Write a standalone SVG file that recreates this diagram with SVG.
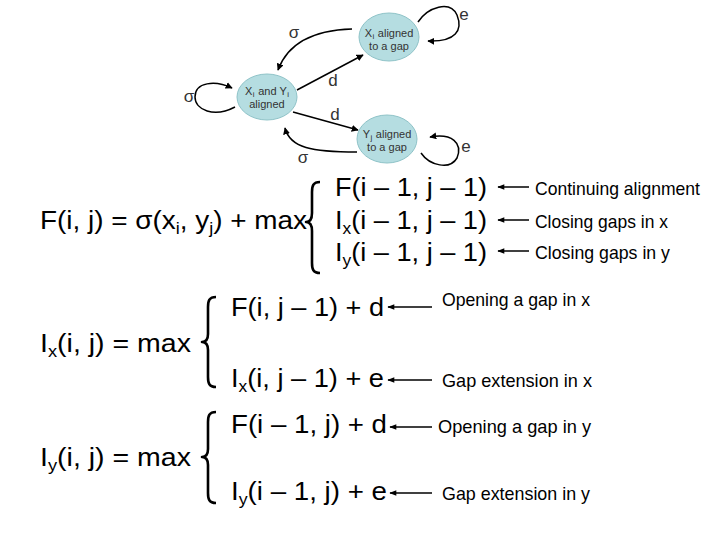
<svg xmlns="http://www.w3.org/2000/svg" width="720" height="540" viewBox="0 0 720 540">
<style>
.node{fill:#b5dde1;stroke:#8fc3c8;stroke-width:1}
.nt{font-family:"Liberation Sans",Arial,sans-serif;font-size:11px;fill:#333;text-anchor:middle}
.el{font-family:"Liberation Sans",Arial,sans-serif;font-size:17px;fill:#333;text-anchor:middle}
.edge{fill:none;stroke:#000;stroke-width:1.5;marker-end:url(#ah)}
.eq{font-family:"Liberation Sans",Arial,sans-serif;font-size:25px;fill:#000}
.sub{font-size:16px}
.lab{font-family:"Liberation Sans Narrow","Liberation Sans",Arial,sans-serif;font-size:19px;fill:#000}
.br{fill:none;stroke:#000;stroke-width:2.6;stroke-linejoin:round}
.arr{fill:none;stroke:#000;stroke-width:1.5;marker-end:url(#ah2)}
</style>
<defs>
<marker id="ah" viewBox="0 0 10 10" refX="9" refY="5" markerWidth="7" markerHeight="7" markerUnits="userSpaceOnUse" orient="auto">
<path d="M0,0 L10,5 L0,10 z" fill="#000"/>
</marker>
<marker id="ah2" viewBox="0 0 10 10" refX="9" refY="5" markerWidth="8" markerHeight="7" markerUnits="userSpaceOnUse" orient="auto">
<path d="M0,1 L10,5 L0,9 z" fill="#000"/>
</marker>
</defs>
<rect width="720" height="540" fill="#fff"/>

<g id="connectors">
<path class="edge" d="M352,29 C318,30 289,40 278,70"/>
<path class="edge" d="M297,90 L363,55"/>
<path class="edge" d="M293,112 L358,130"/>
<path class="edge" d="M357,152 C312,152 290,148 285,128"/>
<path class="edge" d="M235,107 C214,118 195,110 195,97 C195,82 215,80 232,88"/>
<path class="edge" d="M418,22 C428,7 450,0 457,15 C463,30 456,42 428,41"/>
<path class="edge" d="M421,153 C430,166 450,170 457,158 C463,143 452,133 430,137"/>
<text class="el" x="294" y="38">σ</text>
<text class="el" x="189" y="102">σ</text>
<text class="el" x="303" y="163">σ</text>
<text class="el" x="333" y="86">d</text>
<text class="el" x="335" y="120">d</text>
<text class="el" x="464" y="20">e</text>
<text class="el" x="466" y="152">e</text>
</g>

<g id="node-x-gap">
<ellipse class="node" cx="389" cy="37" rx="30" ry="24"/>
<text class="nt" x="389" y="37">X<tspan font-size="8" dx="0.5" dy="2">i</tspan><tspan dx="0.5" dy="-2"> aligned</tspan></text>
<text class="nt" x="389" y="50">to a gap</text>
</g>
<g id="node-aligned">
<ellipse class="node" cx="267" cy="97" rx="30" ry="23"/>
<text class="nt" x="267" y="95">X<tspan font-size="8" dx="0.5" dy="2">i</tspan><tspan dx="0.5" dy="-2"> and Y</tspan><tspan font-size="8" dx="0.5" dy="2">i</tspan></text>
<text class="nt" x="267" y="108">aligned</text>
</g>
<g id="node-y-gap">
<ellipse class="node" cx="387" cy="139" rx="30" ry="24"/>
<text class="nt" x="387" y="138">Y<tspan font-size="8" dx="0.5" dy="2">j</tspan><tspan dx="0.5" dy="-2"> aligned</tspan></text>
<text class="nt" x="387" y="151">to a gap</text>
</g>

<g id="formula-F">
<text class="eq" x="40" y="229" textLength="267" lengthAdjust="spacingAndGlyphs">F(i, j) = σ(x<tspan class="sub" dy="5">i</tspan><tspan dy="-5">, y</tspan><tspan class="sub" dy="5">j</tspan><tspan dy="-5">) + max</tspan></text>
<path class="br" d="M320,182 C313,182 312,186 312,192 L312,213 C312,219 310,222 306,222 C310,222 312,225 312,231 L312,263 C312,269 313,273 320,273"/>
<text class="eq" x="335" y="196" textLength="152" lengthAdjust="spacingAndGlyphs">F(i – 1, j – 1)</text>
<text class="eq" x="335" y="229" textLength="152" lengthAdjust="spacingAndGlyphs">I<tspan class="sub" dy="5">x</tspan><tspan dy="-5">(i – 1, j – 1)</tspan></text>
<text class="eq" x="335" y="261" textLength="152" lengthAdjust="spacingAndGlyphs">I<tspan class="sub" dy="5">y</tspan><tspan dy="-5">(i – 1, j – 1)</tspan></text>
<path class="arr" d="M529,187 L498,187"/>
<path class="arr" d="M529,220 L498,220"/>
<path class="arr" d="M529,251 L498,251"/>
<text class="lab" x="535" y="195" textLength="165" lengthAdjust="spacingAndGlyphs">Continuing alignment</text>
<text class="lab" x="535" y="228" textLength="133" lengthAdjust="spacingAndGlyphs">Closing gaps in x</text>
<text class="lab" x="535" y="259" textLength="135" lengthAdjust="spacingAndGlyphs">Closing gaps in y</text>
</g>

<g id="formula-Ix">
<text class="eq" x="40" y="352" textLength="151" lengthAdjust="spacingAndGlyphs">I<tspan class="sub" dy="5">x</tspan><tspan dy="-5">(i, j) = max</tspan></text>
<path class="br" d="M216,297 C209,297 208,301 208,307 L208,334 C208,339 206,342 202,342 C206,342 208,345 208,350 L208,377 C208,383 209,387 216,387"/>
<text class="eq" x="231" y="316" textLength="153" lengthAdjust="spacingAndGlyphs">F(i, j – 1) + d</text>
<text class="eq" x="231" y="387" textLength="153" lengthAdjust="spacingAndGlyphs">I<tspan class="sub" dy="5">x</tspan><tspan dy="-5">(i, j – 1) + e</tspan></text>
<path class="arr" d="M432,307 L388,307"/>
<path class="arr" d="M432,380 L388,380"/>
<text class="lab" x="442" y="306" textLength="148" lengthAdjust="spacingAndGlyphs">Opening a gap in x</text>
<text class="lab" x="442" y="387" textLength="150" lengthAdjust="spacingAndGlyphs">Gap extension in x</text>
</g>

<g id="formula-Iy">
<text class="eq" x="40" y="466" textLength="151" lengthAdjust="spacingAndGlyphs">I<tspan class="sub" dy="5">y</tspan><tspan dy="-5">(i, j) = max</tspan></text>
<path class="br" d="M216,412 C209,412 208,416 208,422 L208,449 C208,454 206,457 202,457 C206,457 208,460 208,465 L208,493 C208,499 209,503 216,503"/>
<text class="eq" x="231" y="433" textLength="156" lengthAdjust="spacingAndGlyphs">F(i – 1, j) + d</text>
<text class="eq" x="231" y="500" textLength="156" lengthAdjust="spacingAndGlyphs">I<tspan class="sub" dy="5">y</tspan><tspan dy="-5">(i – 1, j) + e</tspan></text>
<path class="arr" d="M432,427 L390,427"/>
<path class="arr" d="M432,493 L390,493"/>
<text class="lab" x="438" y="433" textLength="153" lengthAdjust="spacingAndGlyphs">Opening a gap in y</text>
<text class="lab" x="442" y="500" textLength="148" lengthAdjust="spacingAndGlyphs">Gap extension in y</text>
</g>
</svg>
